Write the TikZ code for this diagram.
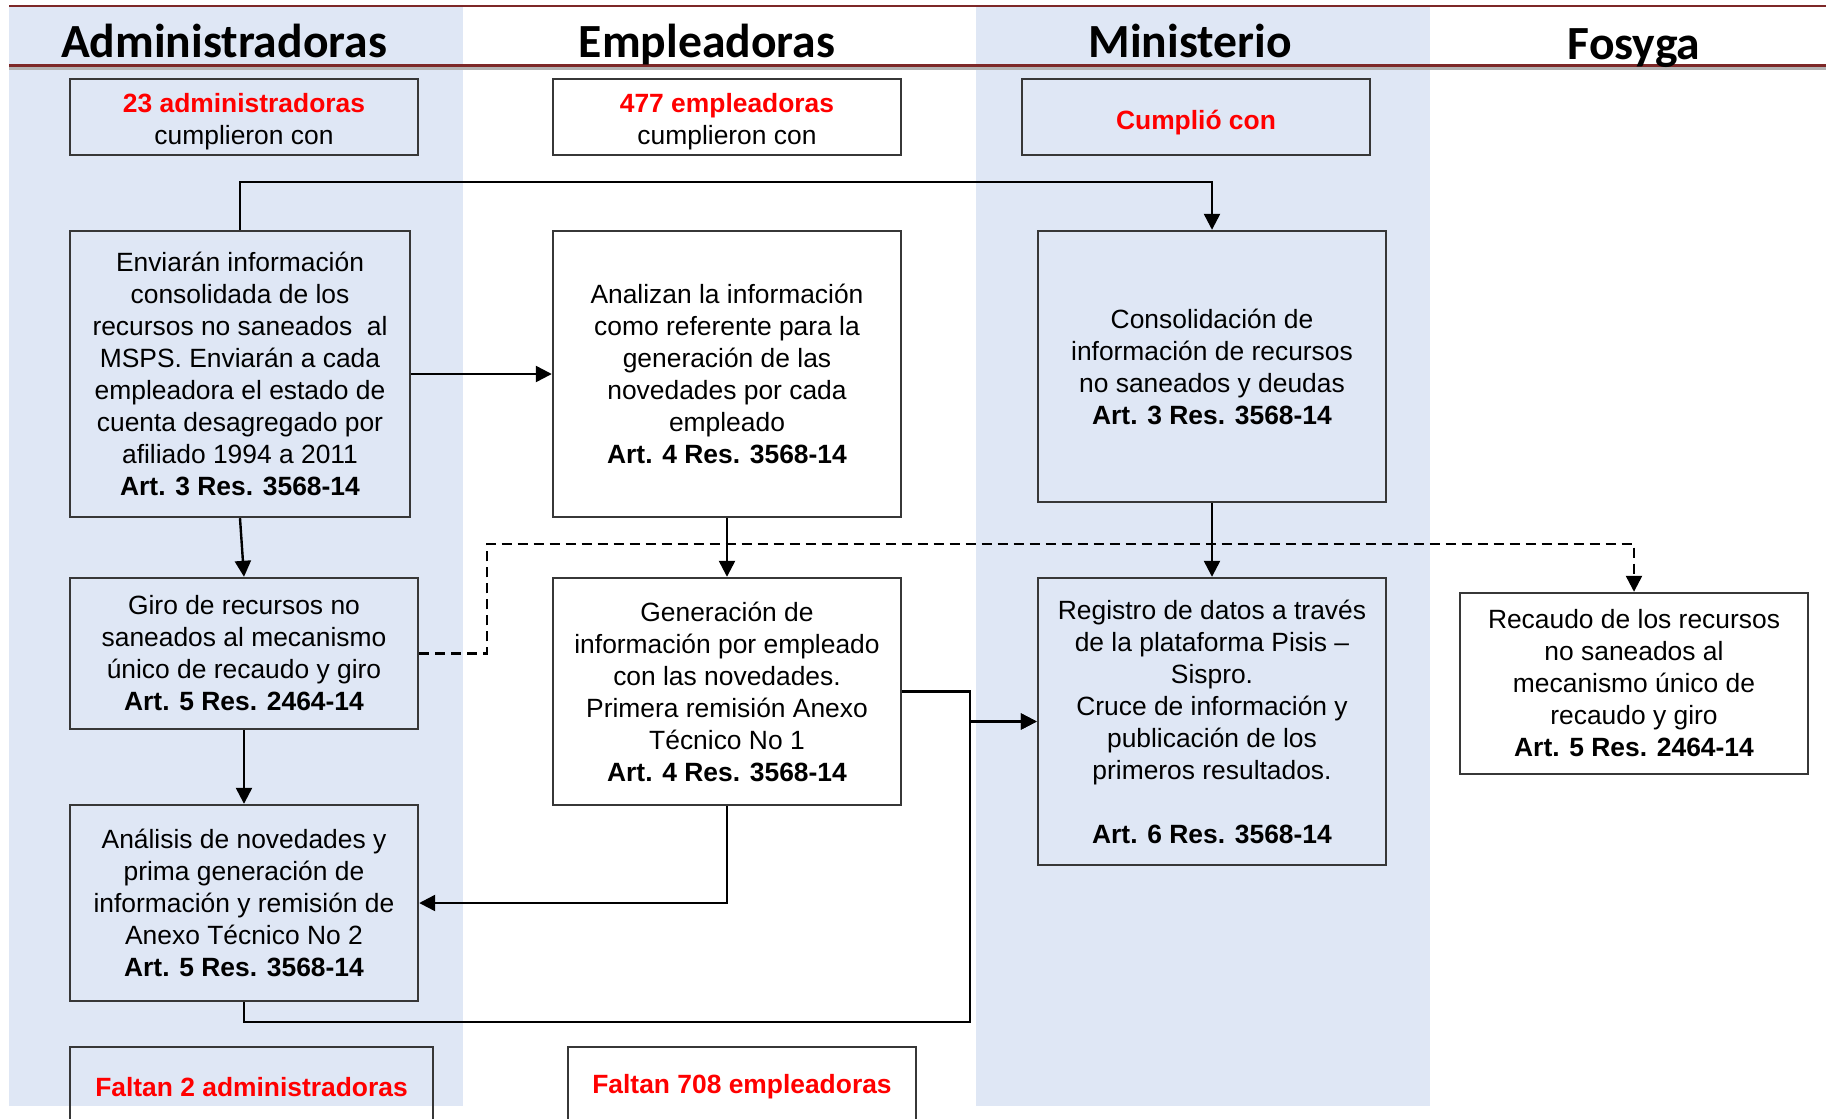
\documentclass[tikz,border=0pt]{standalone}
\usepackage{fontspec}
\setmainfont{Liberation Sans}
\newfontfamily\cabecera{Carlito}
\usetikzlibrary{positioning,arrows.meta}

\definecolor{franja}{RGB}{223,231,245}
\definecolor{linearoja}{RGB}{125,40,40}
\definecolor{borde}{RGB}{55,55,55}

% puntal para bajar el texto de las cajas de arriba
\newcommand{\bajar}{\rule{0pt}{14.6pt}}

\tikzset{
  caja/.style={draw=borde, line width=1.2pt, minimum width=174pt, inner sep=2pt,
    align=center, font=\fontsize{13.2}{16}\selectfont},
  rojo/.style={text=red, font=\bfseries\fontsize{13.2}{16}\selectfont},
  titulo/.style={anchor=base, font=\cabecera\bfseries\fontsize{23.8}{26}\selectfont},
  flecha/.style={-{Triangle[length=8pt,width=8pt]}, line width=1.2pt},
  punteada/.style={dash pattern=on 5pt off 3pt},
}

\begin{document}
\begin{tikzpicture}[x=0.5pt,y=-0.5pt]
\useasboundingbox (0,0) rectangle (1826,1119);
\clip (0,0) rectangle (1826,1119);

% columnas
\fill[franja] (9,7) rectangle (463,1106);
\fill[franja] (976,7) rectangle (1430,1106);
\draw[linearoja, line width=1.2pt] (9,6) -- (1826,6);
\draw[black!30, line width=1.5pt] (9,68) -- (1826,68);
\draw[linearoja, line width=1.2pt] (9,65.5) -- (1826,65.5);

\node[titulo] (tadm) at (224,57) {Administradoras};
\node[titulo] (temp) at (707,57) {Empleadoras};
\node[titulo] (tmin) at (1190,57) {Ministerio};
\node[titulo] (tfos) at (1634,59) {Fosyga};

% cajas de arriba
\node[caja, minimum height=38pt] (A0) at (244,117)
  {\bajar\textcolor{red}{\textbf{23 administradoras}}\\ cumplieron con};
\node[caja, minimum height=38pt] (E0) at (727,117)
  {\bajar\textcolor{red}{\textbf{477 empleadoras}}\\ cumplieron con};
\node[caja, rojo, minimum height=38pt] (M0) at (1196,117) {\rule{0pt}{15.5pt}Cumplió con};

% pasos
\node[caja, minimum width=170pt, minimum height=143pt] (A1) at (240,374)
  {Enviarán información\\ consolidada de los\\ recursos no saneados\ \ al\\
   MSPS. Enviarán a cada\\ empleadora el estado de\\ cuenta desagregado por\\
   afiliado 1994 a 2011\\ \textbf{Art. 3 Res. 3568-14}};
\node[caja, minimum height=143pt] (E1) at (727,374)
  {Analizan la información\\ como referente para la\\ generación de las\\
   novedades por cada\\ empleado\\ \textbf{Art. 4 Res. 3568-14}};
\node[caja, minimum height=135.5pt] (M1) at (1212,366.5)
  {Consolidación de\\ información de recursos\\ no saneados y deudas\\
   \textbf{Art. 3 Res. 3568-14}};

\node[caja, minimum height=75.5pt] (A2) at (244,653.5)
  {Giro de recursos no\\ saneados al mecanismo\\ único de recaudo y giro\\
   \textbf{Art. 5 Res. 2464-14}};
\node[caja, minimum height=113.5pt] (E2) at (727,691.5)
  {Generación de\\ información por empleado\\ con las novedades.\\
   Primera remisión Anexo\\ Técnico No 1\\ \textbf{Art. 4 Res. 3568-14}};
\node[caja, minimum height=143.5pt] (M2) at (1212,721.5)
  {Registro de datos a través\\ de la plataforma Pisis –\\ Sispro.\\
   Cruce de información y\\ publicación de los\\ primeros resultados.\\[16pt]
   \textbf{Art. 6 Res. 3568-14}};
\node[caja, minimum height=90.5pt] (F2) at (1634,683.5)
  {Recaudo de los recursos\\ no saneados al\\ mecanismo único de\\
   recaudo y giro\\ \textbf{Art. 5 Res. 2464-14}};

\node[caja, minimum height=98pt] (A3) at (244,903)
  {Análisis de novedades y\\ prima generación de\\ información y remisión de\\
   Anexo Técnico No 2\\ \textbf{Art. 5 Res. 3568-14}};

% cajas de abajo
\node[caja, rojo, minimum width=181.5pt, minimum height=40pt] (A4) at (251.5,1087)
  {Faltan 2 administradoras};
\node[caja, rojo, minimum height=40pt] (E4) at (742,1087) {Faltan 708 empleadoras};

% conectores
\coordinate (cruce) at (970,1022);
\coordinate (quiebre) at (487,544);

\draw[flecha] (A1.north) -- ++(0,-48) -| (M1.north);
\draw[flecha] (A1.east) -- (E1.west);
\draw[flecha] (A1.south) -- (A2.north);
\draw[flecha] (E1.south) -- (E2.north);
\draw[flecha] (M1.south) -- (M2.north);
\draw[flecha] (A2.south) -- (A3.north);
\draw[flecha] (E2.south) |- (A3.east);
\draw[flecha] (E2.east) -- (cruce |- E2.east) -- (cruce |- M2.west) -- (M2.west);
\draw[flecha] (A3.south) |- (cruce) -- (cruce |- M2.west) -- (M2.west);
\draw[flecha, punteada] (A2.east) -| (quiebre) -| (F2.north);

\end{tikzpicture}
\end{document}
